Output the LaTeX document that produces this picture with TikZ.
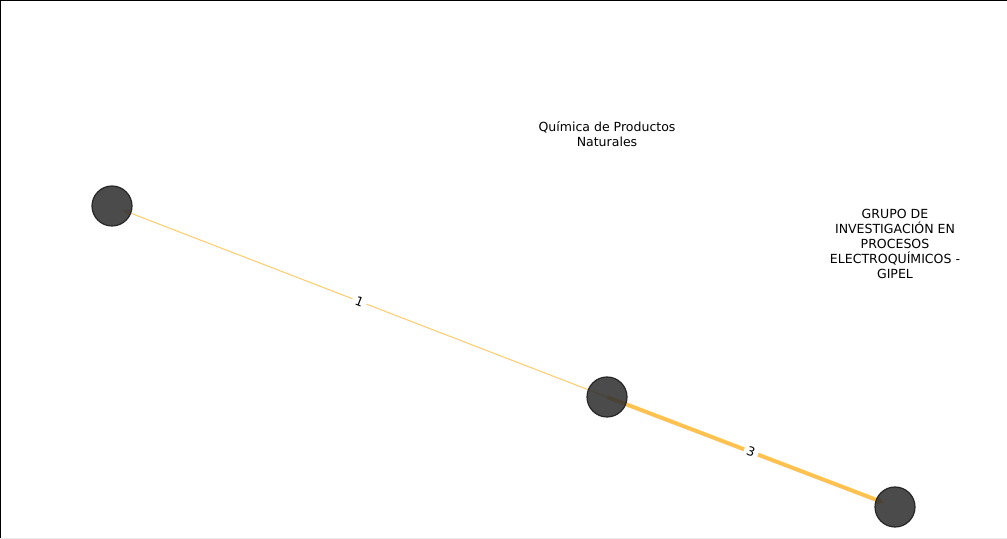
\documentclass[tikz,border=0pt]{standalone}
\usepackage{fontspec}
\setmainfont{DejaVu Sans}
\usepackage{tikz}
\usetikzlibrary{arrows.meta}
\definecolor{edgeorange}{RGB}{255,194,80}
\definecolor{nodegray}{RGB}{50,50,50}

\begin{document}
\begin{tikzpicture}[x=0.75pt,y=0.75pt,
    vertex/.style={circle, minimum size=30pt, inner sep=0pt, fill=nodegray, fill opacity=0.88, draw=black!85, line width=0.9pt},
    grouplabel/.style={align=center, font=\fontsize{9.4}{11.25}\selectfont},
    weight/.style={fill=white, inner sep=2.5pt, sloped, font=\fontsize{9.4}{10}\selectfont}]
    \useasboundingbox (0,0) rectangle (1007,539);
    \draw [line width=0.75pt] (0.5,0) --(0.5,538.5) --(1007,538.5);
    \draw [gray!15, line width=0.75pt] (0,0.7) --(1007,0.7);

    \coordinate (a) at (112,333);
    \coordinate (b) at (607,142);
    \coordinate (c) at (895,32);

    \draw [edgeorange!85, line width=0.75pt, -{Latex[length=6pt,width=5pt]}, shorten >=8pt] (b) -- (a) node [weight, midway, text=black] {1};
    \draw [edgeorange, line width=3pt, -{Latex[length=5pt,width=7pt]}, shorten >=9pt] (b) -- (c) node [weight, midway, text=black] {3};

    \node [vertex] (na) at (a) {};
    \node [vertex] (nb) at (b) {};
    \node [vertex] (nc) at (c) {};

    \node [grouplabel] (quimica) at (607,405) {Química de Productos\\Naturales};
    \node [grouplabel] (gipel) at (895,295) {GRUPO DE\\INVESTIGACIÓN EN\\PROCESOS\\ELECTROQUÍMICOS -\\GIPEL};
\end{tikzpicture}
\end{document}
